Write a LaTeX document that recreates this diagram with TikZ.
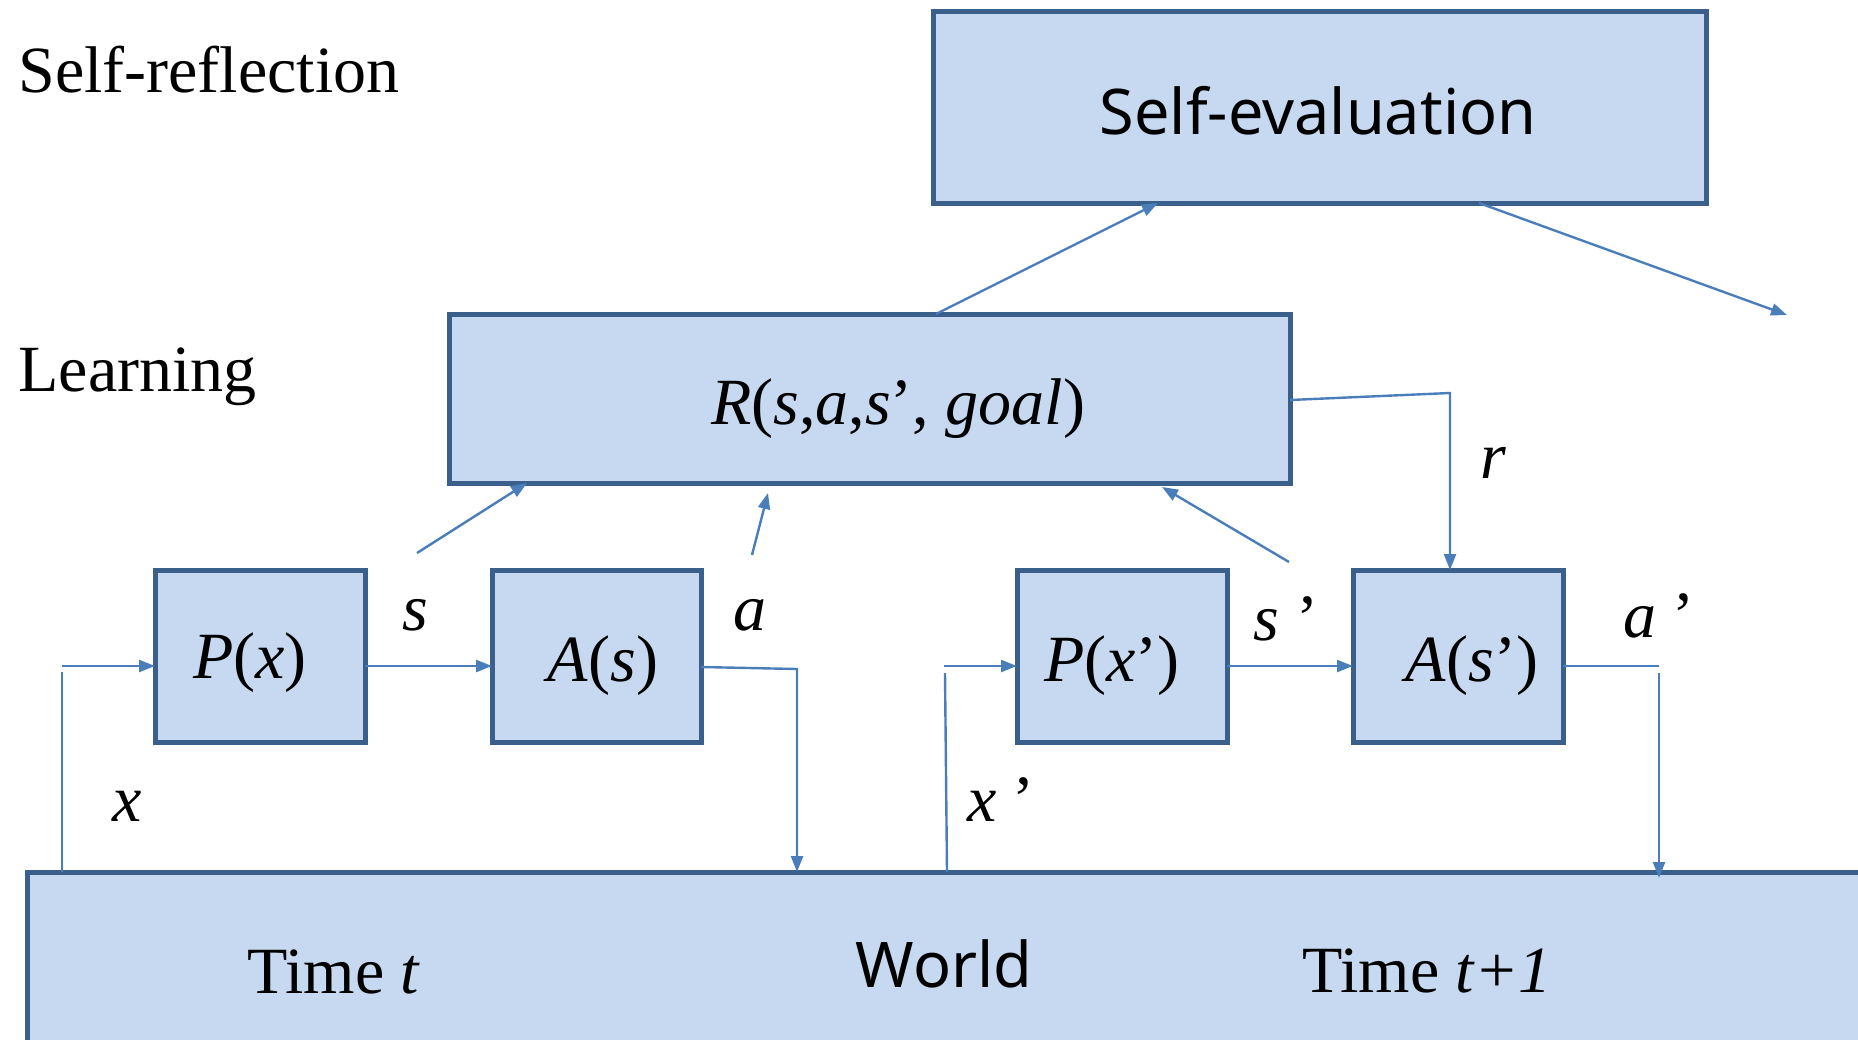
\documentclass[tikz,border=0pt]{standalone}
\usepackage{fontspec}
\setmainfont{Liberation Serif}
\newfontfamily\sansf{Noto Sans}
\usetikzlibrary{arrows.meta,calc}
\definecolor{boxfill}{HTML}{C6D9F1}
\definecolor{boxline}{HTML}{3A5F8B}
\definecolor{conncol}{HTML}{4A7EBB}
\begin{document}
\begin{tikzpicture}[x=0.5pt,y=-0.5pt,
  box/.style={draw=boxline, fill=boxfill, line width=2.5pt, inner sep=0pt, outer sep=0pt},
  conn/.style={draw=conncol, line width=1.2pt},
  arr/.style={conn, -{Triangle[length=8pt,width=6pt]}},
  serif/.style={font=\fontsize{33}{39}\selectfont, inner sep=0pt, anchor=base},
  sans/.style={font=\sansf\fontsize{31.5}{37}\selectfont, inner sep=0pt, anchor=base},
]
\useasboundingbox (0,0) rectangle (1858,1039);
\clip (0,0) rectangle (1858,1039);

% boxes
\node[box, minimum width=386.5pt, minimum height=96pt] (SE) at (1319.5,107) {};
\node[box, minimum width=420.5pt, minimum height=84.5pt] (R) at (869.5,398.5) {};
\node[box, minimum width=105pt, minimum height=86pt] (Px) at (260,656) {};
\node[box, minimum width=104.5pt, minimum height=86pt] (As) at (596.5,656) {};
\node[box, minimum width=105pt, minimum height=86pt] (Pxp) at (1122,656) {};
\node[box, minimum width=105pt, minimum height=86pt] (Asp) at (1458,656) {};
\node[box, minimum width=936.5pt, minimum height=114pt] (W) at (963.5,986) {};

% texts in boxes
\node[sans] (tSE) at (1318,134) {Self-evaluation};
\node[serif] (tR) at (898,424) {\textit{R}(\textit{s},\textit{a},\textit{s}’, \textit{goal})};
\node[serif] (tPx) at (250,678) {\textit{P}(\textit{x})};
\node[serif] (tAs) at (603,681) {\textit{A}(\textit{s})};
\node[serif] (tPxp) at (1112,681) {\textit{P}(\textit{x}’)};
\node[serif] (tAsp) at (1472,681) {\textit{A}(\textit{s}’)};
\node[sans] (tW) at (944,987) {World};
\node[serif] (tT1) at (334,993) {Time \textit{t}};
\node[serif] (tT2) at (1427,992) {Time \textit{t+1}};

% level labels
\node[serif, anchor=base west] (lSR) at (18,92) {Self-reflection};
\node[serif, anchor=base west] (lL) at (18,391) {Learning};

% signal labels
\node[serif] (ls) at (415,630) {\textit{s}};
\node[serif] (la) at (750,630) {\textit{a}};
\node[serif] (lsp) at (1286,640) {\textit{s} ’};
\node[serif] (lap) at (1659,637) {\textit{a} ’};
\node[serif] (lx) at (127,821) {\textit{x}};
\node[serif] (lxp) at (1001,821) {\textit{x} ’};
\node[serif] (lr) at (1493,478) {\textit{r}};

% free ends
\coordinate (sFrom) at (417,553);
\coordinate (aFrom) at (752,555);
\coordinate (spFrom) at (1289,562);
\coordinate (aTo) at (768,493);
\coordinate (outTo) at (1787,315);

% world -> P(x)
\draw[conn] ($(W.north west)+(35,0)$) -- ($(W.north west)+(35,-200)$);
\draw[arr] ($(Px.west)+(-93,10)$) -- ($(Px.west)+(0,10)$);
% P(x) -> A(s)
\draw[arr] ($(Px.east)+(0,10)$) -- ($(As.west)+(0,10)$);
% A(s) -> world
\draw[arr] ($(As.east)+(0,11)$) -- ($(As.east)+(96,13)$) -- ($(W.north west)+(770,0)$);
% world -> P(x')
\draw[conn] ($(W.north west)+(920,0)$) -- ($(W.north west)+(918,-199)$);
\draw[arr] ($(Pxp.west)+(-73,10)$) -- ($(Pxp.west)+(0,10)$);
% P(x') -> A(s')
\draw[arr] ($(Pxp.east)+(0,10)$) -- ($(Asp.west)+(0,10)$);
% A(s') -> world
\draw[conn] ($(Asp.east)+(0,10)$) -- ($(Asp.east)+(96,10)$);
\draw[arr] ($(Asp.east)+(96,17)$) -- ($(W.north west)+(1632,6)$);
% to R
\draw[arr] (sFrom) -- ($(R.south west)+(78,0)$);
\draw[arr] (aFrom) -- (aTo);
\draw[arr] (spFrom) -- ($(R.south west)+(713,4)$);
% R -> r -> A(s')
\draw[arr] ($(R.east)+(0,1.5)$) -- ($(R.east)+(160,-5.5)$) -- ($(Asp.north)+(-8,0)$);
% R -> self-evaluation
\draw[arr] ($(R.north west)+(487,0)$) -- ($(SE.south west)+(225,0)$);
% self-evaluation -> out
\draw[arr] ($(SE.south west)+(546,0)$) -- (outTo);
\end{tikzpicture}
\end{document}
